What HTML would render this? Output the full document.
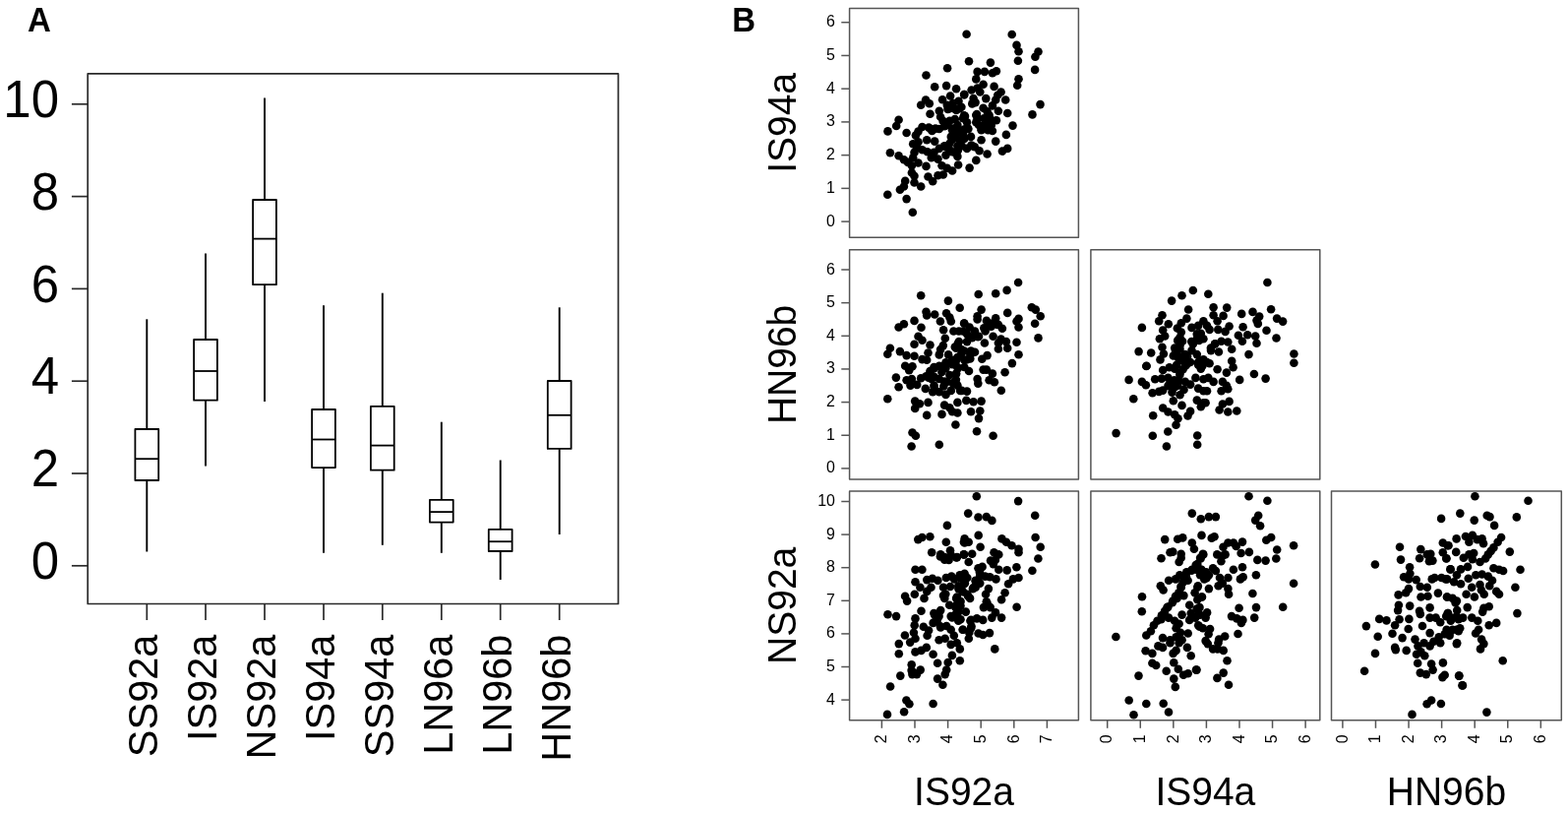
<!DOCTYPE html>
<html><head><meta charset="utf-8"><title>Figure</title>
<style>
html,body{margin:0;padding:0;background:#fff;}
svg{display:block;font-family:"Liberation Sans",Arial,sans-serif;}
</style></head><body>
<svg width="1594" height="827" viewBox="0 0 1594 827">
<rect width="1594" height="827" fill="#fff"/>
<text transform="translate(28.04,31.80) scale(1,1.041)" font-size="33" text-anchor="start" font-weight="bold" fill="#000">A</text>
<rect x="89.2" y="74.9" width="539.30" height="538.60" fill="none" stroke="#2a2a2a" stroke-width="1.7" stroke-linejoin="round"/>
<line x1="72.9" y1="574.80" x2="89.2" y2="574.80" stroke="#2a2a2a" stroke-width="1.7"/>
<text transform="translate(60.00,587.90) scale(1,1.041)" font-size="51" text-anchor="end" fill="#000">0</text>
<line x1="72.9" y1="481.00" x2="89.2" y2="481.00" stroke="#2a2a2a" stroke-width="1.7"/>
<text transform="translate(60.00,494.10) scale(1,1.041)" font-size="51" text-anchor="end" fill="#000">2</text>
<line x1="72.9" y1="387.20" x2="89.2" y2="387.20" stroke="#2a2a2a" stroke-width="1.7"/>
<text transform="translate(60.00,400.30) scale(1,1.041)" font-size="51" text-anchor="end" fill="#000">4</text>
<line x1="72.9" y1="293.40" x2="89.2" y2="293.40" stroke="#2a2a2a" stroke-width="1.7"/>
<text transform="translate(60.00,306.50) scale(1,1.041)" font-size="51" text-anchor="end" fill="#000">6</text>
<line x1="72.9" y1="199.60" x2="89.2" y2="199.60" stroke="#2a2a2a" stroke-width="1.7"/>
<text transform="translate(60.00,212.70) scale(1,1.041)" font-size="51" text-anchor="end" fill="#000">8</text>
<line x1="72.9" y1="105.80" x2="89.2" y2="105.80" stroke="#2a2a2a" stroke-width="1.7"/>
<text transform="translate(60.00,118.90) scale(1,1.041)" font-size="51" text-anchor="end" fill="#000">10</text>
<line x1="149.3" y1="324.3" x2="149.3" y2="436.0" stroke="#000" stroke-width="1.9"/>
<line x1="149.3" y1="488.0" x2="149.3" y2="560.5" stroke="#000" stroke-width="1.9"/>
<rect x="137.40" y="436.0" width="23.80" height="52.00" fill="none" stroke="#000" stroke-width="1.8" stroke-linejoin="round"/>
<line x1="137.40" y1="466.2" x2="161.20" y2="466.2" stroke="#000" stroke-width="1.8"/>
<line x1="149.3" y1="613.5" x2="149.3" y2="630" stroke="#2a2a2a" stroke-width="1.7"/>
<text transform="translate(160.20,644.60) rotate(-90) scale(1,1.041)" font-size="41.5" text-anchor="end" fill="#000">SS92a</text>
<line x1="209.0" y1="257.4" x2="209.0" y2="345.0" stroke="#000" stroke-width="1.9"/>
<line x1="209.0" y1="406.7" x2="209.0" y2="473.4" stroke="#000" stroke-width="1.9"/>
<rect x="197.10" y="345.0" width="23.80" height="61.70" fill="none" stroke="#000" stroke-width="1.8" stroke-linejoin="round"/>
<line x1="197.10" y1="377.0" x2="220.90" y2="377.0" stroke="#000" stroke-width="1.8"/>
<line x1="209.0" y1="613.5" x2="209.0" y2="630" stroke="#2a2a2a" stroke-width="1.7"/>
<text transform="translate(219.90,644.60) rotate(-90) scale(1,1.041)" font-size="41.5" text-anchor="end" fill="#000">IS92a</text>
<line x1="269.0" y1="99.6" x2="269.0" y2="203.0" stroke="#000" stroke-width="1.9"/>
<line x1="269.0" y1="289.2" x2="269.0" y2="408.0" stroke="#000" stroke-width="1.9"/>
<rect x="257.10" y="203.0" width="23.80" height="86.20" fill="none" stroke="#000" stroke-width="1.8" stroke-linejoin="round"/>
<line x1="257.10" y1="242.6" x2="280.90" y2="242.6" stroke="#000" stroke-width="1.8"/>
<line x1="269.0" y1="613.5" x2="269.0" y2="630" stroke="#2a2a2a" stroke-width="1.7"/>
<text transform="translate(279.90,644.60) rotate(-90) scale(1,1.041)" font-size="41.5" text-anchor="end" fill="#000">NS92a</text>
<line x1="329.0" y1="310.3" x2="329.0" y2="416.0" stroke="#000" stroke-width="1.9"/>
<line x1="329.0" y1="475.1" x2="329.0" y2="561.8" stroke="#000" stroke-width="1.9"/>
<rect x="317.10" y="416.0" width="23.80" height="59.10" fill="none" stroke="#000" stroke-width="1.8" stroke-linejoin="round"/>
<line x1="317.10" y1="446.5" x2="340.90" y2="446.5" stroke="#000" stroke-width="1.8"/>
<line x1="329.0" y1="613.5" x2="329.0" y2="630" stroke="#2a2a2a" stroke-width="1.7"/>
<text transform="translate(339.90,644.60) rotate(-90) scale(1,1.041)" font-size="41.5" text-anchor="end" fill="#000">IS94a</text>
<line x1="388.8" y1="297.7" x2="388.8" y2="412.8" stroke="#000" stroke-width="1.9"/>
<line x1="388.8" y1="477.7" x2="388.8" y2="553.8" stroke="#000" stroke-width="1.9"/>
<rect x="376.90" y="412.8" width="23.80" height="64.90" fill="none" stroke="#000" stroke-width="1.8" stroke-linejoin="round"/>
<line x1="376.90" y1="452.6" x2="400.70" y2="452.6" stroke="#000" stroke-width="1.8"/>
<line x1="388.8" y1="613.5" x2="388.8" y2="630" stroke="#2a2a2a" stroke-width="1.7"/>
<text transform="translate(399.70,644.60) rotate(-90) scale(1,1.041)" font-size="41.5" text-anchor="end" fill="#000">SS94a</text>
<line x1="448.8" y1="428.7" x2="448.8" y2="507.8" stroke="#000" stroke-width="1.9"/>
<line x1="448.8" y1="530.6" x2="448.8" y2="561.8" stroke="#000" stroke-width="1.9"/>
<rect x="436.90" y="507.8" width="23.80" height="22.80" fill="none" stroke="#000" stroke-width="1.8" stroke-linejoin="round"/>
<line x1="436.90" y1="520.1" x2="460.70" y2="520.1" stroke="#000" stroke-width="1.8"/>
<line x1="448.8" y1="613.5" x2="448.8" y2="630" stroke="#2a2a2a" stroke-width="1.7"/>
<text transform="translate(459.70,644.60) rotate(-90) scale(1,1.041)" font-size="41.5" text-anchor="end" fill="#000">LN96a</text>
<line x1="508.7" y1="467.5" x2="508.7" y2="537.9" stroke="#000" stroke-width="1.9"/>
<line x1="508.7" y1="560.0" x2="508.7" y2="589.0" stroke="#000" stroke-width="1.9"/>
<rect x="496.80" y="537.9" width="23.80" height="22.10" fill="none" stroke="#000" stroke-width="1.8" stroke-linejoin="round"/>
<line x1="496.80" y1="550.2" x2="520.60" y2="550.2" stroke="#000" stroke-width="1.8"/>
<line x1="508.7" y1="613.5" x2="508.7" y2="630" stroke="#2a2a2a" stroke-width="1.7"/>
<text transform="translate(519.60,644.60) rotate(-90) scale(1,1.041)" font-size="41.5" text-anchor="end" fill="#000">LN96b</text>
<line x1="568.7" y1="312.3" x2="568.7" y2="387.0" stroke="#000" stroke-width="1.9"/>
<line x1="568.7" y1="455.9" x2="568.7" y2="543.0" stroke="#000" stroke-width="1.9"/>
<rect x="556.80" y="387.0" width="23.80" height="68.90" fill="none" stroke="#000" stroke-width="1.8" stroke-linejoin="round"/>
<line x1="556.80" y1="421.8" x2="580.60" y2="421.8" stroke="#000" stroke-width="1.8"/>
<line x1="568.7" y1="613.5" x2="568.7" y2="630" stroke="#2a2a2a" stroke-width="1.7"/>
<text transform="translate(579.60,644.60) rotate(-90) scale(1,1.041)" font-size="41.5" text-anchor="end" fill="#000">HN96b</text>
<text transform="translate(744.19,31.90) scale(1,1.041)" font-size="33" text-anchor="start" font-weight="bold" fill="#000">B</text>
<rect x="863.6" y="8.6" width="232.80" height="232.60" fill="none" stroke="#555" stroke-width="1.5" stroke-linejoin="round"/>
<rect x="863.6" y="253.8" width="232.80" height="233.20" fill="none" stroke="#555" stroke-width="1.5" stroke-linejoin="round"/>
<rect x="1108.9" y="253.8" width="232.90" height="233.20" fill="none" stroke="#555" stroke-width="1.5" stroke-linejoin="round"/>
<rect x="863.6" y="498.9" width="232.80" height="232.90" fill="none" stroke="#555" stroke-width="1.5" stroke-linejoin="round"/>
<rect x="1108.9" y="498.9" width="232.90" height="232.90" fill="none" stroke="#555" stroke-width="1.5" stroke-linejoin="round"/>
<rect x="1353.5" y="498.9" width="233.80" height="232.90" fill="none" stroke="#555" stroke-width="1.5" stroke-linejoin="round"/>
<line x1="855.3" y1="225.10" x2="863.6" y2="225.10" stroke="#555" stroke-width="1.5"/>
<text transform="translate(849.00,229.60) scale(1,1.041)" font-size="16" text-anchor="end" fill="#000">0</text>
<line x1="855.3" y1="191.37" x2="863.6" y2="191.37" stroke="#555" stroke-width="1.5"/>
<text transform="translate(849.00,195.87) scale(1,1.041)" font-size="16" text-anchor="end" fill="#000">1</text>
<line x1="855.3" y1="157.64" x2="863.6" y2="157.64" stroke="#555" stroke-width="1.5"/>
<text transform="translate(849.00,162.14) scale(1,1.041)" font-size="16" text-anchor="end" fill="#000">2</text>
<line x1="855.3" y1="123.91" x2="863.6" y2="123.91" stroke="#555" stroke-width="1.5"/>
<text transform="translate(849.00,128.41) scale(1,1.041)" font-size="16" text-anchor="end" fill="#000">3</text>
<line x1="855.3" y1="90.18" x2="863.6" y2="90.18" stroke="#555" stroke-width="1.5"/>
<text transform="translate(849.00,94.68) scale(1,1.041)" font-size="16" text-anchor="end" fill="#000">4</text>
<line x1="855.3" y1="56.45" x2="863.6" y2="56.45" stroke="#555" stroke-width="1.5"/>
<text transform="translate(849.00,60.95) scale(1,1.041)" font-size="16" text-anchor="end" fill="#000">5</text>
<line x1="855.3" y1="22.72" x2="863.6" y2="22.72" stroke="#555" stroke-width="1.5"/>
<text transform="translate(849.00,27.22) scale(1,1.041)" font-size="16" text-anchor="end" fill="#000">6</text>
<text transform="translate(808.70,124.90) rotate(-90) scale(1,1.041)" font-size="39" text-anchor="middle" fill="#000">IS94a</text>
<line x1="855.3" y1="475.90" x2="863.6" y2="475.90" stroke="#555" stroke-width="1.5"/>
<text transform="translate(849.00,480.40) scale(1,1.041)" font-size="16" text-anchor="end" fill="#000">0</text>
<line x1="855.3" y1="442.25" x2="863.6" y2="442.25" stroke="#555" stroke-width="1.5"/>
<text transform="translate(849.00,446.75) scale(1,1.041)" font-size="16" text-anchor="end" fill="#000">1</text>
<line x1="855.3" y1="408.60" x2="863.6" y2="408.60" stroke="#555" stroke-width="1.5"/>
<text transform="translate(849.00,413.10) scale(1,1.041)" font-size="16" text-anchor="end" fill="#000">2</text>
<line x1="855.3" y1="374.95" x2="863.6" y2="374.95" stroke="#555" stroke-width="1.5"/>
<text transform="translate(849.00,379.45) scale(1,1.041)" font-size="16" text-anchor="end" fill="#000">3</text>
<line x1="855.3" y1="341.30" x2="863.6" y2="341.30" stroke="#555" stroke-width="1.5"/>
<text transform="translate(849.00,345.80) scale(1,1.041)" font-size="16" text-anchor="end" fill="#000">4</text>
<line x1="855.3" y1="307.65" x2="863.6" y2="307.65" stroke="#555" stroke-width="1.5"/>
<text transform="translate(849.00,312.15) scale(1,1.041)" font-size="16" text-anchor="end" fill="#000">5</text>
<line x1="855.3" y1="274.00" x2="863.6" y2="274.00" stroke="#555" stroke-width="1.5"/>
<text transform="translate(849.00,278.50) scale(1,1.041)" font-size="16" text-anchor="end" fill="#000">6</text>
<text transform="translate(808.70,370.40) rotate(-90) scale(1,1.041)" font-size="39" text-anchor="middle" fill="#000">HN96b</text>
<line x1="855.3" y1="711.10" x2="863.6" y2="711.10" stroke="#555" stroke-width="1.5"/>
<text transform="translate(849.00,715.60) scale(1,1.041)" font-size="16" text-anchor="end" fill="#000">4</text>
<line x1="855.3" y1="677.50" x2="863.6" y2="677.50" stroke="#555" stroke-width="1.5"/>
<text transform="translate(849.00,682.00) scale(1,1.041)" font-size="16" text-anchor="end" fill="#000">5</text>
<line x1="855.3" y1="643.90" x2="863.6" y2="643.90" stroke="#555" stroke-width="1.5"/>
<text transform="translate(849.00,648.40) scale(1,1.041)" font-size="16" text-anchor="end" fill="#000">6</text>
<line x1="855.3" y1="610.30" x2="863.6" y2="610.30" stroke="#555" stroke-width="1.5"/>
<text transform="translate(849.00,614.80) scale(1,1.041)" font-size="16" text-anchor="end" fill="#000">7</text>
<line x1="855.3" y1="576.70" x2="863.6" y2="576.70" stroke="#555" stroke-width="1.5"/>
<text transform="translate(849.00,581.20) scale(1,1.041)" font-size="16" text-anchor="end" fill="#000">8</text>
<line x1="855.3" y1="543.10" x2="863.6" y2="543.10" stroke="#555" stroke-width="1.5"/>
<text transform="translate(849.00,547.60) scale(1,1.041)" font-size="16" text-anchor="end" fill="#000">9</text>
<line x1="855.3" y1="509.50" x2="863.6" y2="509.50" stroke="#555" stroke-width="1.5"/>
<text transform="translate(849.00,514.00) scale(1,1.041)" font-size="16" text-anchor="end" fill="#000">10</text>
<text transform="translate(808.70,615.35) rotate(-90) scale(1,1.041)" font-size="39" text-anchor="middle" fill="#000">NS92a</text>
<line x1="896.40" y1="731.8" x2="896.40" y2="739.8" stroke="#555" stroke-width="1.5"/>
<text transform="translate(901.10,746.40) rotate(-90) scale(1,1.041)" font-size="16" text-anchor="end" fill="#000">2</text>
<line x1="930.00" y1="731.8" x2="930.00" y2="739.8" stroke="#555" stroke-width="1.5"/>
<text transform="translate(934.70,746.40) rotate(-90) scale(1,1.041)" font-size="16" text-anchor="end" fill="#000">3</text>
<line x1="963.60" y1="731.8" x2="963.60" y2="739.8" stroke="#555" stroke-width="1.5"/>
<text transform="translate(968.30,746.40) rotate(-90) scale(1,1.041)" font-size="16" text-anchor="end" fill="#000">4</text>
<line x1="997.20" y1="731.8" x2="997.20" y2="739.8" stroke="#555" stroke-width="1.5"/>
<text transform="translate(1001.90,746.40) rotate(-90) scale(1,1.041)" font-size="16" text-anchor="end" fill="#000">5</text>
<line x1="1030.80" y1="731.8" x2="1030.80" y2="739.8" stroke="#555" stroke-width="1.5"/>
<text transform="translate(1035.50,746.40) rotate(-90) scale(1,1.041)" font-size="16" text-anchor="end" fill="#000">6</text>
<line x1="1064.40" y1="731.8" x2="1064.40" y2="739.8" stroke="#555" stroke-width="1.5"/>
<text transform="translate(1069.10,746.40) rotate(-90) scale(1,1.041)" font-size="16" text-anchor="end" fill="#000">7</text>
<text transform="translate(980.00,818.00) scale(1,1.041)" font-size="39" text-anchor="middle" fill="#000">IS92a</text>
<line x1="1125.70" y1="731.8" x2="1125.70" y2="739.8" stroke="#555" stroke-width="1.5"/>
<text transform="translate(1130.40,746.40) rotate(-90) scale(1,1.041)" font-size="16" text-anchor="end" fill="#000">0</text>
<line x1="1159.27" y1="731.8" x2="1159.27" y2="739.8" stroke="#555" stroke-width="1.5"/>
<text transform="translate(1163.97,746.40) rotate(-90) scale(1,1.041)" font-size="16" text-anchor="end" fill="#000">1</text>
<line x1="1192.84" y1="731.8" x2="1192.84" y2="739.8" stroke="#555" stroke-width="1.5"/>
<text transform="translate(1197.54,746.40) rotate(-90) scale(1,1.041)" font-size="16" text-anchor="end" fill="#000">2</text>
<line x1="1226.41" y1="731.8" x2="1226.41" y2="739.8" stroke="#555" stroke-width="1.5"/>
<text transform="translate(1231.11,746.40) rotate(-90) scale(1,1.041)" font-size="16" text-anchor="end" fill="#000">3</text>
<line x1="1259.98" y1="731.8" x2="1259.98" y2="739.8" stroke="#555" stroke-width="1.5"/>
<text transform="translate(1264.68,746.40) rotate(-90) scale(1,1.041)" font-size="16" text-anchor="end" fill="#000">4</text>
<line x1="1293.55" y1="731.8" x2="1293.55" y2="739.8" stroke="#555" stroke-width="1.5"/>
<text transform="translate(1298.25,746.40) rotate(-90) scale(1,1.041)" font-size="16" text-anchor="end" fill="#000">5</text>
<line x1="1327.12" y1="731.8" x2="1327.12" y2="739.8" stroke="#555" stroke-width="1.5"/>
<text transform="translate(1331.82,746.40) rotate(-90) scale(1,1.041)" font-size="16" text-anchor="end" fill="#000">6</text>
<text transform="translate(1225.35,818.00) scale(1,1.041)" font-size="39" text-anchor="middle" fill="#000">IS94a</text>
<line x1="1364.90" y1="731.8" x2="1364.90" y2="739.8" stroke="#555" stroke-width="1.5"/>
<text transform="translate(1369.60,746.40) rotate(-90) scale(1,1.041)" font-size="16" text-anchor="end" fill="#000">0</text>
<line x1="1398.47" y1="731.8" x2="1398.47" y2="739.8" stroke="#555" stroke-width="1.5"/>
<text transform="translate(1403.17,746.40) rotate(-90) scale(1,1.041)" font-size="16" text-anchor="end" fill="#000">1</text>
<line x1="1432.04" y1="731.8" x2="1432.04" y2="739.8" stroke="#555" stroke-width="1.5"/>
<text transform="translate(1436.74,746.40) rotate(-90) scale(1,1.041)" font-size="16" text-anchor="end" fill="#000">2</text>
<line x1="1465.61" y1="731.8" x2="1465.61" y2="739.8" stroke="#555" stroke-width="1.5"/>
<text transform="translate(1470.31,746.40) rotate(-90) scale(1,1.041)" font-size="16" text-anchor="end" fill="#000">3</text>
<line x1="1499.18" y1="731.8" x2="1499.18" y2="739.8" stroke="#555" stroke-width="1.5"/>
<text transform="translate(1503.88,746.40) rotate(-90) scale(1,1.041)" font-size="16" text-anchor="end" fill="#000">4</text>
<line x1="1532.75" y1="731.8" x2="1532.75" y2="739.8" stroke="#555" stroke-width="1.5"/>
<text transform="translate(1537.45,746.40) rotate(-90) scale(1,1.041)" font-size="16" text-anchor="end" fill="#000">5</text>
<line x1="1566.32" y1="731.8" x2="1566.32" y2="739.8" stroke="#555" stroke-width="1.5"/>
<text transform="translate(1571.02,746.40) rotate(-90) scale(1,1.041)" font-size="16" text-anchor="end" fill="#000">6</text>
<text transform="translate(1470.40,818.00) scale(1,1.041)" font-size="39" text-anchor="middle" fill="#000">HN96b</text>
<circle cx="963.1" cy="69.3" r="4.3"/>
<circle cx="941.5" cy="76.5" r="4.3"/>
<circle cx="950.2" cy="88.2" r="4.3"/>
<circle cx="962.1" cy="87.1" r="4.3"/>
<circle cx="972.1" cy="90.2" r="4.3"/>
<circle cx="980.1" cy="96.1" r="4.3"/>
<circle cx="966.1" cy="97.5" r="4.3"/>
<circle cx="958.1" cy="101.2" r="4.3"/>
<circle cx="941.1" cy="101.5" r="4.3"/>
<circle cx="944.8" cy="105.2" r="4.3"/>
<circle cx="936.2" cy="106.8" r="4.3"/>
<circle cx="962.8" cy="106.8" r="4.3"/>
<circle cx="968.8" cy="104.8" r="4.3"/>
<circle cx="974.5" cy="102.8" r="4.3"/>
<circle cx="977.4" cy="108.8" r="4.3"/>
<circle cx="970.8" cy="110.8" r="4.3"/>
<circle cx="963.5" cy="111.0" r="4.3"/>
<circle cx="954.8" cy="112.8" r="4.3"/>
<circle cx="945.5" cy="115.8" r="4.3"/>
<circle cx="980.1" cy="117.4" r="4.3"/>
<circle cx="956.1" cy="118.8" r="4.3"/>
<circle cx="982.6" cy="34.7" r="4.3"/>
<circle cx="1028.7" cy="35.0" r="4.3"/>
<circle cx="1033.5" cy="45.9" r="4.3"/>
<circle cx="1035.5" cy="52.2" r="4.3"/>
<circle cx="1034.9" cy="61.8" r="4.3"/>
<circle cx="1055.5" cy="52.5" r="4.3"/>
<circle cx="1052.4" cy="57.8" r="4.3"/>
<circle cx="1052.1" cy="70.9" r="4.3"/>
<circle cx="985.0" cy="62.2" r="4.3"/>
<circle cx="1006.9" cy="63.6" r="4.3"/>
<circle cx="993.6" cy="72.9" r="4.3"/>
<circle cx="1000.9" cy="72.9" r="4.3"/>
<circle cx="1008.9" cy="74.2" r="4.3"/>
<circle cx="1012.9" cy="72.2" r="4.3"/>
<circle cx="992.3" cy="80.4" r="4.3"/>
<circle cx="1035.5" cy="80.2" r="4.3"/>
<circle cx="1034.2" cy="86.8" r="4.3"/>
<circle cx="999.6" cy="85.8" r="4.3"/>
<circle cx="1010.6" cy="87.9" r="4.3"/>
<circle cx="987.6" cy="91.5" r="4.3"/>
<circle cx="993.6" cy="89.5" r="4.3"/>
<circle cx="996.3" cy="93.5" r="4.3"/>
<circle cx="980.3" cy="96.1" r="4.3"/>
<circle cx="1017.6" cy="93.5" r="4.3"/>
<circle cx="1014.2" cy="96.8" r="4.3"/>
<circle cx="1002.3" cy="100.1" r="4.3"/>
<circle cx="989.6" cy="100.1" r="4.3"/>
<circle cx="988.3" cy="105.4" r="4.3"/>
<circle cx="991.6" cy="104.1" r="4.3"/>
<circle cx="1012.2" cy="101.5" r="4.3"/>
<circle cx="1008.9" cy="107.4" r="4.3"/>
<circle cx="1022.2" cy="101.5" r="4.3"/>
<circle cx="1057.5" cy="106.1" r="4.3"/>
<circle cx="999.6" cy="109.7" r="4.3"/>
<circle cx="1003.6" cy="113.4" r="4.3"/>
<circle cx="1014.9" cy="112.8" r="4.3"/>
<circle cx="1024.2" cy="115.0" r="4.3"/>
<circle cx="1049.5" cy="116.4" r="4.3"/>
<circle cx="993.0" cy="116.1" r="4.3"/>
<circle cx="981.0" cy="118.1" r="4.3"/>
<circle cx="913.6" cy="121.7" r="4.3"/>
<circle cx="911.2" cy="128.0" r="4.3"/>
<circle cx="902.5" cy="133.4" r="4.3"/>
<circle cx="921.6" cy="135.0" r="4.3"/>
<circle cx="937.5" cy="129.0" r="4.3"/>
<circle cx="944.2" cy="129.6" r="4.3"/>
<circle cx="947.5" cy="133.0" r="4.3"/>
<circle cx="933.5" cy="133.6" r="4.3"/>
<circle cx="930.9" cy="137.6" r="4.3"/>
<circle cx="954.8" cy="131.0" r="4.3"/>
<circle cx="960.1" cy="128.3" r="4.3"/>
<circle cx="968.1" cy="132.3" r="4.3"/>
<circle cx="966.8" cy="138.9" r="4.3"/>
<circle cx="942.2" cy="142.3" r="4.3"/>
<circle cx="950.2" cy="143.6" r="4.3"/>
<circle cx="928.2" cy="146.3" r="4.3"/>
<circle cx="933.5" cy="144.3" r="4.3"/>
<circle cx="932.2" cy="150.2" r="4.3"/>
<circle cx="904.9" cy="155.2" r="4.3"/>
<circle cx="913.6" cy="158.2" r="4.3"/>
<circle cx="918.9" cy="162.2" r="4.3"/>
<circle cx="922.9" cy="164.9" r="4.3"/>
<circle cx="928.2" cy="160.2" r="4.3"/>
<circle cx="929.5" cy="154.9" r="4.3"/>
<circle cx="937.5" cy="152.2" r="4.3"/>
<circle cx="942.8" cy="154.2" r="4.3"/>
<circle cx="949.5" cy="154.9" r="4.3"/>
<circle cx="954.8" cy="150.9" r="4.3"/>
<circle cx="960.1" cy="148.3" r="4.3"/>
<circle cx="965.4" cy="152.2" r="4.3"/>
<circle cx="970.8" cy="154.9" r="4.3"/>
<circle cx="973.4" cy="158.9" r="4.3"/>
<circle cx="946.8" cy="160.2" r="4.3"/>
<circle cx="953.5" cy="161.6" r="4.3"/>
<circle cx="961.5" cy="157.6" r="4.3"/>
<circle cx="933.5" cy="165.5" r="4.3"/>
<circle cx="926.9" cy="168.2" r="4.3"/>
<circle cx="941.5" cy="168.9" r="4.3"/>
<circle cx="957.5" cy="168.2" r="4.3"/>
<circle cx="962.8" cy="170.9" r="4.3"/>
<circle cx="968.1" cy="173.5" r="4.3"/>
<circle cx="974.1" cy="167.5" r="4.3"/>
<circle cx="926.9" cy="175.5" r="4.3"/>
<circle cx="929.5" cy="178.8" r="4.3"/>
<circle cx="943.5" cy="179.5" r="4.3"/>
<circle cx="948.2" cy="184.2" r="4.3"/>
<circle cx="953.5" cy="178.2" r="4.3"/>
<circle cx="958.8" cy="177.5" r="4.3"/>
<circle cx="920.2" cy="183.9" r="4.3"/>
<circle cx="929.5" cy="185.5" r="4.3"/>
<circle cx="936.2" cy="189.5" r="4.3"/>
<circle cx="918.9" cy="189.5" r="4.3"/>
<circle cx="914.9" cy="192.8" r="4.3"/>
<circle cx="902.3" cy="197.7" r="4.3"/>
<circle cx="921.6" cy="202.1" r="4.3"/>
<circle cx="927.8" cy="215.7" r="4.3"/>
<circle cx="970.8" cy="121.0" r="4.3"/>
<circle cx="973.4" cy="127.0" r="4.3"/>
<circle cx="968.1" cy="141.6" r="4.3"/>
<circle cx="973.4" cy="148.3" r="4.3"/>
<circle cx="978.8" cy="136.3" r="4.3"/>
<circle cx="1029.5" cy="127.6" r="4.3"/>
<circle cx="1022.9" cy="136.9" r="4.3"/>
<circle cx="1012.2" cy="143.6" r="4.3"/>
<circle cx="997.6" cy="142.3" r="4.3"/>
<circle cx="1018.9" cy="153.6" r="4.3"/>
<circle cx="1024.2" cy="150.9" r="4.3"/>
<circle cx="1003.6" cy="156.5" r="4.3"/>
<circle cx="995.6" cy="153.3" r="4.3"/>
<circle cx="992.3" cy="162.9" r="4.3"/>
<circle cx="985.6" cy="170.6" r="4.3"/>
<circle cx="979.0" cy="120.3" r="4.3"/>
<circle cx="983.0" cy="124.3" r="4.3"/>
<circle cx="993.6" cy="120.3" r="4.3"/>
<circle cx="1000.3" cy="120.3" r="4.3"/>
<circle cx="1006.9" cy="121.0" r="4.3"/>
<circle cx="1012.9" cy="122.3" r="4.3"/>
<circle cx="995.0" cy="127.0" r="4.3"/>
<circle cx="1001.6" cy="125.6" r="4.3"/>
<circle cx="1008.9" cy="133.0" r="4.3"/>
<circle cx="997.6" cy="132.3" r="4.3"/>
<circle cx="984.3" cy="131.0" r="4.3"/>
<circle cx="979.0" cy="135.0" r="4.3"/>
<circle cx="987.0" cy="138.9" r="4.3"/>
<circle cx="980.3" cy="140.9" r="4.3"/>
<circle cx="977.7" cy="148.3" r="4.3"/>
<circle cx="983.0" cy="150.9" r="4.3"/>
<circle cx="988.3" cy="148.3" r="4.3"/>
<circle cx="992.3" cy="124.3" r="4.3"/>
<circle cx="1002.9" cy="129.6" r="4.3"/>
<circle cx="1005.6" cy="117.0" r="4.3"/>
<circle cx="992.3" cy="117.0" r="4.3"/>
<circle cx="962.0" cy="127.2" r="4.3"/>
<circle cx="965.4" cy="122.9" r="4.3"/>
<circle cx="958.6" cy="122.9" r="4.3"/>
<circle cx="973.9" cy="130.6" r="4.3"/>
<circle cx="972.2" cy="135.6" r="4.3"/>
<circle cx="969.6" cy="139.9" r="4.3"/>
<circle cx="975.6" cy="142.4" r="4.3"/>
<circle cx="980.6" cy="131.4" r="4.3"/>
<circle cx="984.0" cy="130.6" r="4.3"/>
<circle cx="967.9" cy="130.6" r="4.3"/>
<circle cx="987.4" cy="147.5" r="4.3"/>
<circle cx="990.8" cy="149.2" r="4.3"/>
<circle cx="965.4" cy="145.8" r="4.3"/>
<circle cx="962.0" cy="149.2" r="4.3"/>
<circle cx="967.9" cy="154.3" r="4.3"/>
<circle cx="973.9" cy="152.6" r="4.3"/>
<circle cx="997.6" cy="130.6" r="4.3"/>
<circle cx="1004.4" cy="132.3" r="4.3"/>
<circle cx="1007.7" cy="127.2" r="4.3"/>
<circle cx="975.6" cy="110.2" r="4.3"/>
<circle cx="972.2" cy="111.9" r="4.3"/>
<circle cx="965.4" cy="110.2" r="4.3"/>
<circle cx="951.0" cy="130.6" r="4.3"/>
<circle cx="946.8" cy="131.4" r="4.3"/>
<circle cx="936.2" cy="300.3" r="4.3"/>
<circle cx="963.9" cy="305.6" r="4.3"/>
<circle cx="975.7" cy="312.8" r="4.3"/>
<circle cx="941.5" cy="316.8" r="4.3"/>
<circle cx="942.2" cy="320.5" r="4.3"/>
<circle cx="950.2" cy="319.5" r="4.3"/>
<circle cx="962.1" cy="318.2" r="4.3"/>
<circle cx="965.4" cy="322.5" r="4.3"/>
<circle cx="966.8" cy="326.5" r="4.3"/>
<circle cx="955.9" cy="326.5" r="4.3"/>
<circle cx="980.1" cy="328.5" r="4.3"/>
<circle cx="929.5" cy="325.9" r="4.3"/>
<circle cx="918.9" cy="329.2" r="4.3"/>
<circle cx="913.6" cy="332.5" r="4.3"/>
<circle cx="936.5" cy="332.8" r="4.3"/>
<circle cx="959.1" cy="335.2" r="4.3"/>
<circle cx="969.4" cy="336.5" r="4.3"/>
<circle cx="974.8" cy="336.5" r="4.3"/>
<circle cx="933.5" cy="341.8" r="4.3"/>
<circle cx="937.5" cy="345.8" r="4.3"/>
<circle cx="960.8" cy="343.8" r="4.3"/>
<circle cx="929.5" cy="349.8" r="4.3"/>
<circle cx="945.5" cy="350.5" r="4.3"/>
<circle cx="904.9" cy="353.8" r="4.3"/>
<circle cx="902.3" cy="359.8" r="4.3"/>
<circle cx="914.9" cy="357.1" r="4.3"/>
<circle cx="921.6" cy="361.1" r="4.3"/>
<circle cx="929.5" cy="361.8" r="4.3"/>
<circle cx="937.5" cy="365.1" r="4.3"/>
<circle cx="942.2" cy="365.8" r="4.3"/>
<circle cx="943.5" cy="358.5" r="4.3"/>
<circle cx="956.1" cy="355.1" r="4.3"/>
<circle cx="958.8" cy="351.1" r="4.3"/>
<circle cx="954.8" cy="360.4" r="4.3"/>
<circle cx="964.1" cy="360.4" r="4.3"/>
<circle cx="970.8" cy="352.5" r="4.3"/>
<circle cx="974.8" cy="347.1" r="4.3"/>
<circle cx="977.4" cy="355.1" r="4.3"/>
<circle cx="973.4" cy="363.1" r="4.3"/>
<circle cx="968.1" cy="365.8" r="4.3"/>
<circle cx="961.5" cy="368.4" r="4.3"/>
<circle cx="1035.1" cy="287.0" r="4.3"/>
<circle cx="994.7" cy="299.0" r="4.3"/>
<circle cx="1012.2" cy="298.2" r="4.3"/>
<circle cx="1023.6" cy="294.9" r="4.3"/>
<circle cx="997.6" cy="314.6" r="4.3"/>
<circle cx="1024.2" cy="317.9" r="4.3"/>
<circle cx="993.6" cy="321.2" r="4.3"/>
<circle cx="993.6" cy="324.5" r="4.3"/>
<circle cx="1012.2" cy="323.2" r="4.3"/>
<circle cx="1002.9" cy="325.9" r="4.3"/>
<circle cx="1048.8" cy="312.3" r="4.3"/>
<circle cx="1052.8" cy="314.6" r="4.3"/>
<circle cx="1057.7" cy="321.2" r="4.3"/>
<circle cx="1052.1" cy="328.8" r="4.3"/>
<circle cx="1035.5" cy="323.9" r="4.3"/>
<circle cx="1033.5" cy="326.5" r="4.3"/>
<circle cx="1035.5" cy="332.5" r="4.3"/>
<circle cx="980.3" cy="328.5" r="4.3"/>
<circle cx="985.6" cy="332.5" r="4.3"/>
<circle cx="991.0" cy="336.5" r="4.3"/>
<circle cx="983.0" cy="339.2" r="4.3"/>
<circle cx="988.3" cy="343.2" r="4.3"/>
<circle cx="979.0" cy="336.5" r="4.3"/>
<circle cx="995.0" cy="341.8" r="4.3"/>
<circle cx="1000.3" cy="333.2" r="4.3"/>
<circle cx="1005.6" cy="331.2" r="4.3"/>
<circle cx="1008.3" cy="328.5" r="4.3"/>
<circle cx="1014.9" cy="329.9" r="4.3"/>
<circle cx="1018.9" cy="333.8" r="4.3"/>
<circle cx="1009.6" cy="341.8" r="4.3"/>
<circle cx="1001.6" cy="336.5" r="4.3"/>
<circle cx="1017.6" cy="344.5" r="4.3"/>
<circle cx="1022.9" cy="347.1" r="4.3"/>
<circle cx="1014.9" cy="348.5" r="4.3"/>
<circle cx="1000.9" cy="348.5" r="4.3"/>
<circle cx="1033.5" cy="347.8" r="4.3"/>
<circle cx="1055.5" cy="343.4" r="4.3"/>
<circle cx="1014.9" cy="354.5" r="4.3"/>
<circle cx="1024.2" cy="353.8" r="4.3"/>
<circle cx="983.0" cy="347.1" r="4.3"/>
<circle cx="980.3" cy="356.5" r="4.3"/>
<circle cx="987.0" cy="356.5" r="4.3"/>
<circle cx="991.0" cy="357.8" r="4.3"/>
<circle cx="986.3" cy="364.4" r="4.3"/>
<circle cx="1003.6" cy="361.1" r="4.3"/>
<circle cx="998.3" cy="364.7" r="4.3"/>
<circle cx="1035.5" cy="360.2" r="4.3"/>
<circle cx="980.3" cy="365.8" r="4.3"/>
<circle cx="1028.9" cy="369.1" r="4.3"/>
<circle cx="920.2" cy="371.7" r="4.3"/>
<circle cx="927.5" cy="372.3" r="4.3"/>
<circle cx="924.2" cy="376.3" r="4.3"/>
<circle cx="910.9" cy="383.6" r="4.3"/>
<circle cx="913.6" cy="393.2" r="4.3"/>
<circle cx="921.6" cy="386.3" r="4.3"/>
<circle cx="926.9" cy="385.0" r="4.3"/>
<circle cx="925.5" cy="391.6" r="4.3"/>
<circle cx="932.2" cy="390.9" r="4.3"/>
<circle cx="936.2" cy="384.3" r="4.3"/>
<circle cx="941.5" cy="382.3" r="4.3"/>
<circle cx="940.8" cy="394.9" r="4.3"/>
<circle cx="945.5" cy="377.0" r="4.3"/>
<circle cx="949.5" cy="373.0" r="4.3"/>
<circle cx="954.8" cy="371.7" r="4.3"/>
<circle cx="961.5" cy="370.3" r="4.3"/>
<circle cx="968.1" cy="370.3" r="4.3"/>
<circle cx="973.4" cy="373.0" r="4.3"/>
<circle cx="946.8" cy="385.0" r="4.3"/>
<circle cx="949.5" cy="391.6" r="4.3"/>
<circle cx="954.8" cy="385.0" r="4.3"/>
<circle cx="960.1" cy="387.6" r="4.3"/>
<circle cx="965.4" cy="381.0" r="4.3"/>
<circle cx="972.1" cy="379.6" r="4.3"/>
<circle cx="970.8" cy="387.6" r="4.3"/>
<circle cx="973.4" cy="391.6" r="4.3"/>
<circle cx="948.2" cy="398.3" r="4.3"/>
<circle cx="954.8" cy="398.3" r="4.3"/>
<circle cx="961.5" cy="400.9" r="4.3"/>
<circle cx="966.8" cy="396.9" r="4.3"/>
<circle cx="976.1" cy="396.9" r="4.3"/>
<circle cx="902.3" cy="405.2" r="4.3"/>
<circle cx="930.2" cy="407.6" r="4.3"/>
<circle cx="934.9" cy="410.2" r="4.3"/>
<circle cx="943.5" cy="408.9" r="4.3"/>
<circle cx="930.2" cy="414.9" r="4.3"/>
<circle cx="942.2" cy="421.9" r="4.3"/>
<circle cx="960.1" cy="411.6" r="4.3"/>
<circle cx="965.4" cy="414.2" r="4.3"/>
<circle cx="957.5" cy="420.9" r="4.3"/>
<circle cx="968.1" cy="418.2" r="4.3"/>
<circle cx="973.4" cy="419.5" r="4.3"/>
<circle cx="973.4" cy="408.9" r="4.3"/>
<circle cx="971.4" cy="431.5" r="4.3"/>
<circle cx="927.5" cy="439.5" r="4.3"/>
<circle cx="930.9" cy="442.8" r="4.3"/>
<circle cx="926.6" cy="453.5" r="4.3"/>
<circle cx="954.8" cy="451.7" r="4.3"/>
<circle cx="985.0" cy="377.0" r="4.3"/>
<circle cx="980.3" cy="373.0" r="4.3"/>
<circle cx="999.6" cy="375.6" r="4.3"/>
<circle cx="1002.9" cy="375.6" r="4.3"/>
<circle cx="1008.9" cy="379.6" r="4.3"/>
<circle cx="1021.6" cy="378.3" r="4.3"/>
<circle cx="993.6" cy="385.0" r="4.3"/>
<circle cx="994.3" cy="389.6" r="4.3"/>
<circle cx="1005.6" cy="386.3" r="4.3"/>
<circle cx="1010.9" cy="388.3" r="4.3"/>
<circle cx="1017.8" cy="396.7" r="4.3"/>
<circle cx="983.0" cy="397.6" r="4.3"/>
<circle cx="977.7" cy="396.9" r="4.3"/>
<circle cx="982.3" cy="406.9" r="4.3"/>
<circle cx="989.6" cy="408.2" r="4.3"/>
<circle cx="997.6" cy="407.6" r="4.3"/>
<circle cx="987.0" cy="418.2" r="4.3"/>
<circle cx="996.3" cy="417.5" r="4.3"/>
<circle cx="995.0" cy="425.1" r="4.3"/>
<circle cx="993.0" cy="438.2" r="4.3"/>
<circle cx="1009.6" cy="442.8" r="4.3"/>
<circle cx="973.8" cy="349.0" r="4.3"/>
<circle cx="971.9" cy="353.8" r="4.3"/>
<circle cx="976.8" cy="360.6" r="4.3"/>
<circle cx="971.9" cy="366.4" r="4.3"/>
<circle cx="973.8" cy="374.2" r="4.3"/>
<circle cx="971.9" cy="380.0" r="4.3"/>
<circle cx="971.9" cy="385.8" r="4.3"/>
<circle cx="969.0" cy="389.6" r="4.3"/>
<circle cx="949.7" cy="374.2" r="4.3"/>
<circle cx="945.8" cy="378.0" r="4.3"/>
<circle cx="943.9" cy="383.8" r="4.3"/>
<circle cx="949.7" cy="382.9" r="4.3"/>
<circle cx="957.4" cy="378.0" r="4.3"/>
<circle cx="961.3" cy="374.2" r="4.3"/>
<circle cx="955.5" cy="372.2" r="4.3"/>
<circle cx="963.2" cy="387.7" r="4.3"/>
<circle cx="959.3" cy="392.5" r="4.3"/>
<circle cx="949.7" cy="393.5" r="4.3"/>
<circle cx="986.4" cy="360.6" r="4.3"/>
<circle cx="982.6" cy="365.5" r="4.3"/>
<circle cx="991.3" cy="339.3" r="4.3"/>
<circle cx="994.2" cy="342.2" r="4.3"/>
<circle cx="1007.7" cy="331.6" r="4.3"/>
<circle cx="1013.5" cy="329.7" r="4.3"/>
<circle cx="1212.8" cy="295.0" r="4.3"/>
<circle cx="1201.5" cy="300.3" r="4.3"/>
<circle cx="1191.1" cy="305.6" r="4.3"/>
<circle cx="1208.1" cy="314.5" r="4.3"/>
<circle cx="1181.5" cy="320.2" r="4.3"/>
<circle cx="1178.2" cy="326.2" r="4.3"/>
<circle cx="1187.8" cy="329.3" r="4.3"/>
<circle cx="1206.4" cy="323.6" r="4.3"/>
<circle cx="1200.8" cy="328.2" r="4.3"/>
<circle cx="1196.8" cy="333.5" r="4.3"/>
<circle cx="1160.9" cy="332.9" r="4.3"/>
<circle cx="1182.2" cy="335.5" r="4.3"/>
<circle cx="1184.2" cy="341.5" r="4.3"/>
<circle cx="1178.9" cy="344.2" r="4.3"/>
<circle cx="1200.8" cy="337.5" r="4.3"/>
<circle cx="1199.5" cy="342.8" r="4.3"/>
<circle cx="1202.1" cy="346.8" r="4.3"/>
<circle cx="1211.5" cy="332.9" r="4.3"/>
<circle cx="1218.1" cy="330.9" r="4.3"/>
<circle cx="1223.4" cy="326.2" r="4.3"/>
<circle cx="1220.8" cy="338.8" r="4.3"/>
<circle cx="1223.4" cy="344.2" r="4.3"/>
<circle cx="1212.8" cy="349.5" r="4.3"/>
<circle cx="1216.8" cy="344.2" r="4.3"/>
<circle cx="1157.6" cy="357.1" r="4.3"/>
<circle cx="1170.2" cy="358.5" r="4.3"/>
<circle cx="1181.5" cy="352.8" r="4.3"/>
<circle cx="1182.9" cy="359.5" r="4.3"/>
<circle cx="1179.5" cy="365.4" r="4.3"/>
<circle cx="1194.2" cy="353.5" r="4.3"/>
<circle cx="1199.5" cy="354.8" r="4.3"/>
<circle cx="1192.8" cy="361.5" r="4.3"/>
<circle cx="1198.2" cy="364.1" r="4.3"/>
<circle cx="1204.8" cy="360.1" r="4.3"/>
<circle cx="1211.5" cy="356.1" r="4.3"/>
<circle cx="1216.8" cy="360.1" r="4.3"/>
<circle cx="1208.8" cy="368.1" r="4.3"/>
<circle cx="1218.1" cy="368.1" r="4.3"/>
<circle cx="1223.4" cy="365.4" r="4.3"/>
<circle cx="1165.6" cy="371.8" r="4.3"/>
<circle cx="1288.4" cy="287.0" r="4.3"/>
<circle cx="1228.3" cy="298.7" r="4.3"/>
<circle cx="1233.6" cy="312.2" r="4.3"/>
<circle cx="1247.2" cy="312.6" r="4.3"/>
<circle cx="1233.6" cy="320.2" r="4.3"/>
<circle cx="1243.6" cy="320.9" r="4.3"/>
<circle cx="1237.6" cy="326.2" r="4.3"/>
<circle cx="1262.2" cy="318.9" r="4.3"/>
<circle cx="1273.5" cy="316.9" r="4.3"/>
<circle cx="1280.2" cy="321.6" r="4.3"/>
<circle cx="1277.5" cy="325.5" r="4.3"/>
<circle cx="1278.8" cy="328.9" r="4.3"/>
<circle cx="1292.1" cy="314.2" r="4.3"/>
<circle cx="1298.1" cy="323.6" r="4.3"/>
<circle cx="1304.1" cy="326.6" r="4.3"/>
<circle cx="1287.5" cy="335.8" r="4.3"/>
<circle cx="1297.5" cy="343.5" r="4.3"/>
<circle cx="1263.6" cy="332.2" r="4.3"/>
<circle cx="1268.2" cy="340.2" r="4.3"/>
<circle cx="1258.9" cy="340.8" r="4.3"/>
<circle cx="1276.2" cy="341.5" r="4.3"/>
<circle cx="1277.5" cy="348.8" r="4.3"/>
<circle cx="1262.9" cy="346.8" r="4.3"/>
<circle cx="1249.6" cy="331.5" r="4.3"/>
<circle cx="1245.6" cy="336.9" r="4.3"/>
<circle cx="1238.3" cy="334.9" r="4.3"/>
<circle cx="1229.6" cy="334.9" r="4.3"/>
<circle cx="1227.0" cy="330.9" r="4.3"/>
<circle cx="1235.0" cy="349.5" r="4.3"/>
<circle cx="1241.6" cy="346.8" r="4.3"/>
<circle cx="1248.3" cy="347.5" r="4.3"/>
<circle cx="1252.2" cy="354.8" r="4.3"/>
<circle cx="1238.9" cy="357.5" r="4.3"/>
<circle cx="1231.0" cy="356.1" r="4.3"/>
<circle cx="1227.0" cy="368.1" r="4.3"/>
<circle cx="1269.5" cy="360.1" r="4.3"/>
<circle cx="1315.4" cy="359.5" r="4.3"/>
<circle cx="1315.4" cy="368.8" r="4.3"/>
<circle cx="1252.2" cy="366.8" r="4.3"/>
<circle cx="1182.2" cy="376.0" r="4.3"/>
<circle cx="1188.8" cy="373.3" r="4.3"/>
<circle cx="1194.2" cy="374.6" r="4.3"/>
<circle cx="1199.5" cy="378.6" r="4.3"/>
<circle cx="1204.8" cy="372.0" r="4.3"/>
<circle cx="1210.1" cy="368.0" r="4.3"/>
<circle cx="1218.1" cy="370.6" r="4.3"/>
<circle cx="1220.8" cy="374.6" r="4.3"/>
<circle cx="1147.6" cy="385.9" r="4.3"/>
<circle cx="1160.9" cy="387.9" r="4.3"/>
<circle cx="1164.9" cy="391.3" r="4.3"/>
<circle cx="1174.2" cy="385.3" r="4.3"/>
<circle cx="1180.9" cy="384.6" r="4.3"/>
<circle cx="1187.5" cy="383.9" r="4.3"/>
<circle cx="1190.2" cy="387.9" r="4.3"/>
<circle cx="1187.5" cy="391.9" r="4.3"/>
<circle cx="1194.2" cy="393.3" r="4.3"/>
<circle cx="1198.2" cy="386.6" r="4.3"/>
<circle cx="1204.8" cy="387.9" r="4.3"/>
<circle cx="1210.1" cy="390.6" r="4.3"/>
<circle cx="1215.4" cy="383.9" r="4.3"/>
<circle cx="1223.4" cy="385.3" r="4.3"/>
<circle cx="1218.1" cy="394.6" r="4.3"/>
<circle cx="1223.4" cy="397.2" r="4.3"/>
<circle cx="1203.5" cy="395.9" r="4.3"/>
<circle cx="1199.5" cy="401.2" r="4.3"/>
<circle cx="1191.5" cy="398.6" r="4.3"/>
<circle cx="1171.6" cy="399.2" r="4.3"/>
<circle cx="1178.2" cy="397.9" r="4.3"/>
<circle cx="1182.2" cy="396.6" r="4.3"/>
<circle cx="1152.3" cy="405.2" r="4.3"/>
<circle cx="1192.8" cy="407.2" r="4.3"/>
<circle cx="1201.5" cy="411.9" r="4.3"/>
<circle cx="1216.8" cy="406.6" r="4.3"/>
<circle cx="1223.4" cy="409.2" r="4.3"/>
<circle cx="1220.8" cy="413.2" r="4.3"/>
<circle cx="1182.2" cy="414.5" r="4.3"/>
<circle cx="1187.5" cy="418.5" r="4.3"/>
<circle cx="1194.2" cy="421.2" r="4.3"/>
<circle cx="1197.5" cy="425.2" r="4.3"/>
<circle cx="1195.5" cy="431.8" r="4.3"/>
<circle cx="1207.5" cy="422.5" r="4.3"/>
<circle cx="1210.1" cy="417.9" r="4.3"/>
<circle cx="1172.2" cy="422.3" r="4.3"/>
<circle cx="1187.3" cy="438.5" r="4.3"/>
<circle cx="1134.6" cy="440.1" r="4.3"/>
<circle cx="1171.8" cy="442.7" r="4.3"/>
<circle cx="1185.9" cy="453.5" r="4.3"/>
<circle cx="1217.2" cy="442.5" r="4.3"/>
<circle cx="1217.2" cy="451.8" r="4.3"/>
<circle cx="1165.3" cy="372.0" r="4.3"/>
<circle cx="1253.6" cy="373.3" r="4.3"/>
<circle cx="1237.6" cy="375.3" r="4.3"/>
<circle cx="1246.9" cy="378.6" r="4.3"/>
<circle cx="1274.9" cy="380.0" r="4.3"/>
<circle cx="1286.6" cy="384.6" r="4.3"/>
<circle cx="1260.2" cy="385.9" r="4.3"/>
<circle cx="1233.6" cy="387.9" r="4.3"/>
<circle cx="1242.9" cy="387.9" r="4.3"/>
<circle cx="1246.9" cy="391.9" r="4.3"/>
<circle cx="1241.6" cy="397.2" r="4.3"/>
<circle cx="1248.3" cy="395.2" r="4.3"/>
<circle cx="1228.3" cy="383.9" r="4.3"/>
<circle cx="1227.0" cy="397.2" r="4.3"/>
<circle cx="1225.6" cy="409.2" r="4.3"/>
<circle cx="1249.6" cy="407.9" r="4.3"/>
<circle cx="1242.9" cy="410.5" r="4.3"/>
<circle cx="1239.6" cy="416.5" r="4.3"/>
<circle cx="1248.3" cy="418.5" r="4.3"/>
<circle cx="1257.3" cy="417.5" r="4.3"/>
<circle cx="1229.6" cy="369.3" r="4.3"/>
<circle cx="1197.2" cy="345.9" r="4.3"/>
<circle cx="1199.4" cy="351.3" r="4.3"/>
<circle cx="1195.0" cy="356.8" r="4.3"/>
<circle cx="1198.3" cy="362.2" r="4.3"/>
<circle cx="1202.6" cy="366.6" r="4.3"/>
<circle cx="1205.9" cy="370.9" r="4.3"/>
<circle cx="1196.1" cy="370.9" r="4.3"/>
<circle cx="1216.8" cy="339.4" r="4.3"/>
<circle cx="1219.0" cy="345.9" r="4.3"/>
<circle cx="1211.3" cy="347.0" r="4.3"/>
<circle cx="1235.3" cy="349.2" r="4.3"/>
<circle cx="1230.9" cy="353.5" r="4.3"/>
<circle cx="1202.6" cy="375.3" r="4.3"/>
<circle cx="1199.4" cy="380.7" r="4.3"/>
<circle cx="1193.9" cy="386.2" r="4.3"/>
<circle cx="1197.2" cy="391.6" r="4.3"/>
<circle cx="1191.8" cy="394.9" r="4.3"/>
<circle cx="1220.1" cy="366.6" r="4.3"/>
<circle cx="1222.2" cy="372.0" r="4.3"/>
<circle cx="1207.0" cy="362.2" r="4.3"/>
<circle cx="962.9" cy="533.9" r="4.3"/>
<circle cx="933.3" cy="548.1" r="4.3"/>
<circle cx="937.4" cy="546.0" r="4.3"/>
<circle cx="945.4" cy="545.3" r="4.3"/>
<circle cx="961.8" cy="550.8" r="4.3"/>
<circle cx="947.2" cy="561.3" r="4.3"/>
<circle cx="956.2" cy="563.4" r="4.3"/>
<circle cx="960.4" cy="566.1" r="4.3"/>
<circle cx="964.6" cy="568.9" r="4.3"/>
<circle cx="966.0" cy="559.2" r="4.3"/>
<circle cx="972.9" cy="566.1" r="4.3"/>
<circle cx="979.9" cy="563.4" r="4.3"/>
<circle cx="979.9" cy="550.8" r="4.3"/>
<circle cx="930.5" cy="578.7" r="4.3"/>
<circle cx="937.4" cy="578.7" r="4.3"/>
<circle cx="942.3" cy="589.1" r="4.3"/>
<circle cx="947.9" cy="587.7" r="4.3"/>
<circle cx="953.4" cy="589.8" r="4.3"/>
<circle cx="930.5" cy="591.2" r="4.3"/>
<circle cx="935.4" cy="596.7" r="4.3"/>
<circle cx="946.5" cy="596.7" r="4.3"/>
<circle cx="942.3" cy="600.9" r="4.3"/>
<circle cx="929.8" cy="603.7" r="4.3"/>
<circle cx="920.1" cy="605.8" r="4.3"/>
<circle cx="922.1" cy="610.6" r="4.3"/>
<circle cx="959.0" cy="596.7" r="4.3"/>
<circle cx="966.0" cy="596.0" r="4.3"/>
<circle cx="961.8" cy="587.0" r="4.3"/>
<circle cx="967.3" cy="585.6" r="4.3"/>
<circle cx="959.0" cy="605.1" r="4.3"/>
<circle cx="970.1" cy="588.4" r="4.3"/>
<circle cx="975.7" cy="584.2" r="4.3"/>
<circle cx="974.3" cy="595.3" r="4.3"/>
<circle cx="972.9" cy="606.5" r="4.3"/>
<circle cx="978.5" cy="600.9" r="4.3"/>
<circle cx="939.5" cy="607.9" r="4.3"/>
<circle cx="992.8" cy="504.3" r="4.3"/>
<circle cx="1035.1" cy="509.1" r="4.3"/>
<circle cx="984.2" cy="521.6" r="4.3"/>
<circle cx="994.5" cy="525.5" r="4.3"/>
<circle cx="1002.8" cy="525.1" r="4.3"/>
<circle cx="1008.4" cy="528.9" r="4.3"/>
<circle cx="1052.2" cy="523.7" r="4.3"/>
<circle cx="994.7" cy="543.9" r="4.3"/>
<circle cx="980.6" cy="547.4" r="4.3"/>
<circle cx="984.7" cy="550.8" r="4.3"/>
<circle cx="980.6" cy="551.5" r="4.3"/>
<circle cx="996.6" cy="555.7" r="4.3"/>
<circle cx="1018.4" cy="547.4" r="4.3"/>
<circle cx="1023.0" cy="550.8" r="4.3"/>
<circle cx="1028.5" cy="554.3" r="4.3"/>
<circle cx="1035.5" cy="557.8" r="4.3"/>
<circle cx="1035.5" cy="561.3" r="4.3"/>
<circle cx="1052.6" cy="546.0" r="4.3"/>
<circle cx="1057.7" cy="555.7" r="4.3"/>
<circle cx="1055.4" cy="567.5" r="4.3"/>
<circle cx="1049.4" cy="579.8" r="4.3"/>
<circle cx="979.9" cy="563.4" r="4.3"/>
<circle cx="988.2" cy="562.7" r="4.3"/>
<circle cx="984.7" cy="571.0" r="4.3"/>
<circle cx="1010.5" cy="561.3" r="4.3"/>
<circle cx="1015.3" cy="563.4" r="4.3"/>
<circle cx="1007.0" cy="569.6" r="4.3"/>
<circle cx="1011.9" cy="568.9" r="4.3"/>
<circle cx="1009.8" cy="573.1" r="4.3"/>
<circle cx="1015.3" cy="578.7" r="4.3"/>
<circle cx="1023.7" cy="579.4" r="4.3"/>
<circle cx="1033.4" cy="576.2" r="4.3"/>
<circle cx="994.5" cy="577.3" r="4.3"/>
<circle cx="998.6" cy="575.9" r="4.3"/>
<circle cx="995.9" cy="581.4" r="4.3"/>
<circle cx="1001.4" cy="585.6" r="4.3"/>
<circle cx="1006.3" cy="586.3" r="4.3"/>
<circle cx="1012.5" cy="588.4" r="4.3"/>
<circle cx="980.6" cy="582.8" r="4.3"/>
<circle cx="983.3" cy="587.0" r="4.3"/>
<circle cx="979.2" cy="594.0" r="4.3"/>
<circle cx="991.7" cy="589.8" r="4.3"/>
<circle cx="991.7" cy="596.7" r="4.3"/>
<circle cx="988.9" cy="598.1" r="4.3"/>
<circle cx="983.3" cy="603.7" r="4.3"/>
<circle cx="986.1" cy="607.9" r="4.3"/>
<circle cx="1004.9" cy="598.1" r="4.3"/>
<circle cx="1002.1" cy="603.7" r="4.3"/>
<circle cx="1025.1" cy="593.3" r="4.3"/>
<circle cx="1029.9" cy="588.4" r="4.3"/>
<circle cx="1035.5" cy="587.0" r="4.3"/>
<circle cx="1021.6" cy="602.3" r="4.3"/>
<circle cx="1018.1" cy="609.3" r="4.3"/>
<circle cx="1002.8" cy="611.3" r="4.3"/>
<circle cx="902.5" cy="624.3" r="4.3"/>
<circle cx="911.1" cy="626.1" r="4.3"/>
<circle cx="936.5" cy="620.8" r="4.3"/>
<circle cx="949.4" cy="623.1" r="4.3"/>
<circle cx="956.2" cy="620.1" r="4.3"/>
<circle cx="954.6" cy="626.1" r="4.3"/>
<circle cx="965.2" cy="614.8" r="4.3"/>
<circle cx="972.8" cy="614.0" r="4.3"/>
<circle cx="974.3" cy="621.6" r="4.3"/>
<circle cx="966.7" cy="626.1" r="4.3"/>
<circle cx="974.3" cy="630.7" r="4.3"/>
<circle cx="978.8" cy="639.7" r="4.3"/>
<circle cx="930.5" cy="628.4" r="4.3"/>
<circle cx="929.7" cy="635.2" r="4.3"/>
<circle cx="938.8" cy="636.7" r="4.3"/>
<circle cx="944.1" cy="640.5" r="4.3"/>
<circle cx="942.6" cy="645.8" r="4.3"/>
<circle cx="948.6" cy="632.9" r="4.3"/>
<circle cx="956.2" cy="637.5" r="4.3"/>
<circle cx="962.2" cy="636.0" r="4.3"/>
<circle cx="966.7" cy="639.7" r="4.3"/>
<circle cx="969.8" cy="645.8" r="4.3"/>
<circle cx="954.6" cy="650.3" r="4.3"/>
<circle cx="960.7" cy="648.8" r="4.3"/>
<circle cx="966.7" cy="654.9" r="4.3"/>
<circle cx="972.8" cy="653.3" r="4.3"/>
<circle cx="975.8" cy="659.4" r="4.3"/>
<circle cx="928.9" cy="642.8" r="4.3"/>
<circle cx="930.5" cy="648.8" r="4.3"/>
<circle cx="919.9" cy="645.5" r="4.3"/>
<circle cx="925.2" cy="652.6" r="4.3"/>
<circle cx="913.8" cy="654.1" r="4.3"/>
<circle cx="913.8" cy="664.2" r="4.3"/>
<circle cx="930.5" cy="662.4" r="4.3"/>
<circle cx="936.5" cy="660.9" r="4.3"/>
<circle cx="941.8" cy="657.9" r="4.3"/>
<circle cx="948.6" cy="664.7" r="4.3"/>
<circle cx="967.9" cy="665.9" r="4.3"/>
<circle cx="975.8" cy="671.2" r="4.3"/>
<circle cx="953.1" cy="673.7" r="4.3"/>
<circle cx="963.7" cy="673.0" r="4.3"/>
<circle cx="962.2" cy="680.6" r="4.3"/>
<circle cx="960.7" cy="685.1" r="4.3"/>
<circle cx="953.1" cy="689.6" r="4.3"/>
<circle cx="958.4" cy="695.7" r="4.3"/>
<circle cx="926.7" cy="675.3" r="4.3"/>
<circle cx="927.4" cy="685.1" r="4.3"/>
<circle cx="935.7" cy="680.6" r="4.3"/>
<circle cx="932.0" cy="685.1" r="4.3"/>
<circle cx="915.3" cy="686.6" r="4.3"/>
<circle cx="905.1" cy="697.5" r="4.3"/>
<circle cx="921.4" cy="711.5" r="4.3"/>
<circle cx="924.4" cy="715.3" r="4.3"/>
<circle cx="948.6" cy="715.0" r="4.3"/>
<circle cx="919.1" cy="723.3" r="4.3"/>
<circle cx="902.0" cy="725.9" r="4.3"/>
<circle cx="1003.7" cy="613.3" r="4.3"/>
<circle cx="999.9" cy="617.1" r="4.3"/>
<circle cx="1006.7" cy="617.1" r="4.3"/>
<circle cx="1012.0" cy="622.4" r="4.3"/>
<circle cx="1008.3" cy="627.6" r="4.3"/>
<circle cx="1018.1" cy="627.6" r="4.3"/>
<circle cx="1033.6" cy="616.8" r="4.3"/>
<circle cx="981.8" cy="621.6" r="4.3"/>
<circle cx="987.1" cy="629.9" r="4.3"/>
<circle cx="993.1" cy="628.4" r="4.3"/>
<circle cx="999.2" cy="629.9" r="4.3"/>
<circle cx="987.1" cy="638.2" r="4.3"/>
<circle cx="994.6" cy="643.5" r="4.3"/>
<circle cx="999.2" cy="645.0" r="4.3"/>
<circle cx="1006.0" cy="643.1" r="4.3"/>
<circle cx="984.8" cy="648.8" r="4.3"/>
<circle cx="978.8" cy="639.7" r="4.3"/>
<circle cx="1011.3" cy="659.4" r="4.3"/>
<circle cx="976.5" cy="629.2" r="4.3"/>
<circle cx="976.5" cy="615.6" r="4.3"/>
<circle cx="976.6" cy="587.2" r="4.3"/>
<circle cx="980.9" cy="592.6" r="4.3"/>
<circle cx="974.4" cy="598.1" r="4.3"/>
<circle cx="978.8" cy="601.3" r="4.3"/>
<circle cx="972.2" cy="607.9" r="4.3"/>
<circle cx="976.6" cy="611.1" r="4.3"/>
<circle cx="971.1" cy="616.6" r="4.3"/>
<circle cx="972.2" cy="623.1" r="4.3"/>
<circle cx="974.4" cy="629.6" r="4.3"/>
<circle cx="967.9" cy="627.5" r="4.3"/>
<circle cx="961.3" cy="603.5" r="4.3"/>
<circle cx="960.3" cy="607.9" r="4.3"/>
<circle cx="996.2" cy="585.0" r="4.3"/>
<circle cx="991.8" cy="590.5" r="4.3"/>
<circle cx="996.2" cy="592.6" r="4.3"/>
<circle cx="989.6" cy="597.0" r="4.3"/>
<circle cx="955.9" cy="565.4" r="4.3"/>
<circle cx="960.3" cy="568.7" r="4.3"/>
<circle cx="966.8" cy="564.4" r="4.3"/>
<circle cx="972.2" cy="566.5" r="4.3"/>
<circle cx="984.2" cy="605.7" r="4.3"/>
<circle cx="986.4" cy="630.7" r="4.3"/>
<circle cx="987.5" cy="636.2" r="4.3"/>
<circle cx="985.3" cy="642.7" r="4.3"/>
<circle cx="952.6" cy="630.7" r="4.3"/>
<circle cx="955.9" cy="636.2" r="4.3"/>
<circle cx="950.5" cy="625.3" r="4.3"/>
<circle cx="926.6" cy="681.1" r="4.3"/>
<circle cx="929.0" cy="683.5" r="4.3"/>
<circle cx="1211.8" cy="521.6" r="4.3"/>
<circle cx="1220.8" cy="527.2" r="4.3"/>
<circle cx="1184.2" cy="548.1" r="4.3"/>
<circle cx="1197.2" cy="547.8" r="4.3"/>
<circle cx="1202.3" cy="546.4" r="4.3"/>
<circle cx="1221.5" cy="543.9" r="4.3"/>
<circle cx="1211.8" cy="551.5" r="4.3"/>
<circle cx="1213.9" cy="557.8" r="4.3"/>
<circle cx="1189.5" cy="561.3" r="4.3"/>
<circle cx="1192.3" cy="560.6" r="4.3"/>
<circle cx="1200.7" cy="562.7" r="4.3"/>
<circle cx="1200.7" cy="566.8" r="4.3"/>
<circle cx="1198.6" cy="571.0" r="4.3"/>
<circle cx="1180.5" cy="567.3" r="4.3"/>
<circle cx="1222.9" cy="562.7" r="4.3"/>
<circle cx="1220.1" cy="566.8" r="4.3"/>
<circle cx="1217.3" cy="573.1" r="4.3"/>
<circle cx="1211.8" cy="578.7" r="4.3"/>
<circle cx="1216.0" cy="578.7" r="4.3"/>
<circle cx="1221.5" cy="578.7" r="4.3"/>
<circle cx="1206.2" cy="581.4" r="4.3"/>
<circle cx="1199.3" cy="584.2" r="4.3"/>
<circle cx="1195.1" cy="588.4" r="4.3"/>
<circle cx="1203.4" cy="587.0" r="4.3"/>
<circle cx="1207.6" cy="589.8" r="4.3"/>
<circle cx="1188.1" cy="589.8" r="4.3"/>
<circle cx="1220.1" cy="584.2" r="4.3"/>
<circle cx="1224.3" cy="588.4" r="4.3"/>
<circle cx="1179.8" cy="595.3" r="4.3"/>
<circle cx="1182.6" cy="599.5" r="4.3"/>
<circle cx="1200.7" cy="596.7" r="4.3"/>
<circle cx="1199.3" cy="602.3" r="4.3"/>
<circle cx="1196.5" cy="607.9" r="4.3"/>
<circle cx="1203.4" cy="605.1" r="4.3"/>
<circle cx="1217.3" cy="596.7" r="4.3"/>
<circle cx="1214.6" cy="602.3" r="4.3"/>
<circle cx="1221.5" cy="606.5" r="4.3"/>
<circle cx="1217.3" cy="609.3" r="4.3"/>
<circle cx="1161.0" cy="606.2" r="4.3"/>
<circle cx="1192.3" cy="610.6" r="4.3"/>
<circle cx="1269.5" cy="504.3" r="4.3"/>
<circle cx="1288.4" cy="508.8" r="4.3"/>
<circle cx="1228.9" cy="525.1" r="4.3"/>
<circle cx="1235.9" cy="525.1" r="4.3"/>
<circle cx="1279.2" cy="523.7" r="4.3"/>
<circle cx="1276.2" cy="528.6" r="4.3"/>
<circle cx="1281.1" cy="534.2" r="4.3"/>
<circle cx="1231.7" cy="546.7" r="4.3"/>
<circle cx="1234.5" cy="545.3" r="4.3"/>
<circle cx="1287.3" cy="548.8" r="4.3"/>
<circle cx="1292.2" cy="546.0" r="4.3"/>
<circle cx="1315.1" cy="554.3" r="4.3"/>
<circle cx="1298.2" cy="558.5" r="4.3"/>
<circle cx="1297.3" cy="567.5" r="4.3"/>
<circle cx="1248.4" cy="551.5" r="4.3"/>
<circle cx="1253.9" cy="551.5" r="4.3"/>
<circle cx="1256.7" cy="555.0" r="4.3"/>
<circle cx="1263.0" cy="550.6" r="4.3"/>
<circle cx="1243.5" cy="555.7" r="4.3"/>
<circle cx="1237.3" cy="563.4" r="4.3"/>
<circle cx="1242.8" cy="564.8" r="4.3"/>
<circle cx="1245.6" cy="563.4" r="4.3"/>
<circle cx="1241.4" cy="570.3" r="4.3"/>
<circle cx="1261.6" cy="562.0" r="4.3"/>
<circle cx="1269.9" cy="560.9" r="4.3"/>
<circle cx="1278.3" cy="568.9" r="4.3"/>
<circle cx="1286.6" cy="569.6" r="4.3"/>
<circle cx="1223.3" cy="563.4" r="4.3"/>
<circle cx="1220.6" cy="567.5" r="4.3"/>
<circle cx="1233.1" cy="577.3" r="4.3"/>
<circle cx="1235.9" cy="580.0" r="4.3"/>
<circle cx="1228.9" cy="584.2" r="4.3"/>
<circle cx="1226.1" cy="581.4" r="4.3"/>
<circle cx="1220.6" cy="578.7" r="4.3"/>
<circle cx="1253.9" cy="578.7" r="4.3"/>
<circle cx="1263.0" cy="576.2" r="4.3"/>
<circle cx="1276.9" cy="584.2" r="4.3"/>
<circle cx="1240.0" cy="587.0" r="4.3"/>
<circle cx="1248.4" cy="587.0" r="4.3"/>
<circle cx="1242.8" cy="592.6" r="4.3"/>
<circle cx="1238.6" cy="595.3" r="4.3"/>
<circle cx="1260.9" cy="588.4" r="4.3"/>
<circle cx="1263.7" cy="586.3" r="4.3"/>
<circle cx="1315.1" cy="592.8" r="4.3"/>
<circle cx="1228.9" cy="598.1" r="4.3"/>
<circle cx="1248.4" cy="598.1" r="4.3"/>
<circle cx="1249.1" cy="603.7" r="4.3"/>
<circle cx="1273.4" cy="603.0" r="4.3"/>
<circle cx="1222.0" cy="606.5" r="4.3"/>
<circle cx="1217.8" cy="595.3" r="4.3"/>
<circle cx="1160.8" cy="621.3" r="4.3"/>
<circle cx="1134.4" cy="647.0" r="4.3"/>
<circle cx="1186.5" cy="617.1" r="4.3"/>
<circle cx="1183.5" cy="623.1" r="4.3"/>
<circle cx="1180.5" cy="629.2" r="4.3"/>
<circle cx="1172.9" cy="635.2" r="4.3"/>
<circle cx="1169.9" cy="641.3" r="4.3"/>
<circle cx="1165.3" cy="645.5" r="4.3"/>
<circle cx="1188.0" cy="627.6" r="4.3"/>
<circle cx="1194.1" cy="630.7" r="4.3"/>
<circle cx="1198.6" cy="633.7" r="4.3"/>
<circle cx="1201.6" cy="624.6" r="4.3"/>
<circle cx="1209.2" cy="614.8" r="4.3"/>
<circle cx="1216.7" cy="618.6" r="4.3"/>
<circle cx="1210.7" cy="623.1" r="4.3"/>
<circle cx="1215.2" cy="627.6" r="4.3"/>
<circle cx="1209.2" cy="629.9" r="4.3"/>
<circle cx="1219.8" cy="624.6" r="4.3"/>
<circle cx="1218.2" cy="635.2" r="4.3"/>
<circle cx="1222.8" cy="638.2" r="4.3"/>
<circle cx="1195.6" cy="638.2" r="4.3"/>
<circle cx="1200.1" cy="642.8" r="4.3"/>
<circle cx="1195.6" cy="647.3" r="4.3"/>
<circle cx="1201.6" cy="650.3" r="4.3"/>
<circle cx="1207.7" cy="643.5" r="4.3"/>
<circle cx="1182.0" cy="648.1" r="4.3"/>
<circle cx="1189.5" cy="650.3" r="4.3"/>
<circle cx="1189.5" cy="653.3" r="4.3"/>
<circle cx="1198.6" cy="653.3" r="4.3"/>
<circle cx="1177.4" cy="656.4" r="4.3"/>
<circle cx="1182.0" cy="657.9" r="4.3"/>
<circle cx="1164.6" cy="661.2" r="4.3"/>
<circle cx="1171.4" cy="663.9" r="4.3"/>
<circle cx="1192.6" cy="663.9" r="4.3"/>
<circle cx="1195.6" cy="660.9" r="4.3"/>
<circle cx="1206.9" cy="657.9" r="4.3"/>
<circle cx="1210.7" cy="666.2" r="4.3"/>
<circle cx="1171.4" cy="673.7" r="4.3"/>
<circle cx="1175.2" cy="676.0" r="4.3"/>
<circle cx="1193.3" cy="673.3" r="4.3"/>
<circle cx="1197.8" cy="679.8" r="4.3"/>
<circle cx="1185.7" cy="681.8" r="4.3"/>
<circle cx="1203.1" cy="685.8" r="4.3"/>
<circle cx="1207.7" cy="684.3" r="4.3"/>
<circle cx="1216.0" cy="680.6" r="4.3"/>
<circle cx="1193.3" cy="689.6" r="4.3"/>
<circle cx="1194.8" cy="697.9" r="4.3"/>
<circle cx="1157.5" cy="686.6" r="4.3"/>
<circle cx="1147.7" cy="711.5" r="4.3"/>
<circle cx="1165.3" cy="715.0" r="4.3"/>
<circle cx="1182.7" cy="714.7" r="4.3"/>
<circle cx="1188.0" cy="723.5" r="4.3"/>
<circle cx="1152.5" cy="726.2" r="4.3"/>
<circle cx="1259.6" cy="617.8" r="4.3"/>
<circle cx="1277.0" cy="617.1" r="4.3"/>
<circle cx="1304.2" cy="616.8" r="4.3"/>
<circle cx="1252.0" cy="626.1" r="4.3"/>
<circle cx="1257.3" cy="628.4" r="4.3"/>
<circle cx="1263.4" cy="629.9" r="4.3"/>
<circle cx="1261.9" cy="632.9" r="4.3"/>
<circle cx="1275.2" cy="627.6" r="4.3"/>
<circle cx="1258.5" cy="644.0" r="4.3"/>
<circle cx="1227.1" cy="622.4" r="4.3"/>
<circle cx="1225.6" cy="627.6" r="4.3"/>
<circle cx="1219.5" cy="617.1" r="4.3"/>
<circle cx="1218.0" cy="624.6" r="4.3"/>
<circle cx="1219.5" cy="636.7" r="4.3"/>
<circle cx="1230.1" cy="639.0" r="4.3"/>
<circle cx="1228.6" cy="644.3" r="4.3"/>
<circle cx="1225.6" cy="651.1" r="4.3"/>
<circle cx="1227.8" cy="654.1" r="4.3"/>
<circle cx="1239.2" cy="649.6" r="4.3"/>
<circle cx="1238.4" cy="653.3" r="4.3"/>
<circle cx="1245.2" cy="646.5" r="4.3"/>
<circle cx="1233.1" cy="659.4" r="4.3"/>
<circle cx="1237.7" cy="659.4" r="4.3"/>
<circle cx="1243.7" cy="660.9" r="4.3"/>
<circle cx="1247.5" cy="671.2" r="4.3"/>
<circle cx="1243.7" cy="683.6" r="4.3"/>
<circle cx="1237.4" cy="688.9" r="4.3"/>
<circle cx="1249.0" cy="695.7" r="4.3"/>
<circle cx="1216.5" cy="680.6" r="4.3"/>
<circle cx="1195.0" cy="605.7" r="4.3"/>
<circle cx="1198.3" cy="602.4" r="4.3"/>
<circle cx="1191.8" cy="612.2" r="4.3"/>
<circle cx="1187.4" cy="616.6" r="4.3"/>
<circle cx="1184.1" cy="620.9" r="4.3"/>
<circle cx="1180.9" cy="625.3" r="4.3"/>
<circle cx="1176.5" cy="630.7" r="4.3"/>
<circle cx="1200.5" cy="595.9" r="4.3"/>
<circle cx="1202.6" cy="591.6" r="4.3"/>
<circle cx="1205.9" cy="586.1" r="4.3"/>
<circle cx="1211.3" cy="579.6" r="4.3"/>
<circle cx="1215.7" cy="574.1" r="4.3"/>
<circle cx="1222.2" cy="583.9" r="4.3"/>
<circle cx="1226.6" cy="587.2" r="4.3"/>
<circle cx="1465.1" cy="526.9" r="4.3"/>
<circle cx="1423.0" cy="555.7" r="4.3"/>
<circle cx="1424.0" cy="568.6" r="4.3"/>
<circle cx="1397.9" cy="573.5" r="4.3"/>
<circle cx="1444.3" cy="558.1" r="4.3"/>
<circle cx="1443.1" cy="567.3" r="4.3"/>
<circle cx="1450.8" cy="563.4" r="4.3"/>
<circle cx="1454.3" cy="562.7" r="4.3"/>
<circle cx="1452.9" cy="570.3" r="4.3"/>
<circle cx="1456.4" cy="569.6" r="4.3"/>
<circle cx="1466.8" cy="551.5" r="4.3"/>
<circle cx="1471.6" cy="554.3" r="4.3"/>
<circle cx="1466.8" cy="561.3" r="4.3"/>
<circle cx="1470.3" cy="567.3" r="4.3"/>
<circle cx="1433.1" cy="576.2" r="4.3"/>
<circle cx="1433.4" cy="582.8" r="4.3"/>
<circle cx="1427.1" cy="586.3" r="4.3"/>
<circle cx="1432.0" cy="588.4" r="4.3"/>
<circle cx="1439.7" cy="589.1" r="4.3"/>
<circle cx="1443.8" cy="596.0" r="4.3"/>
<circle cx="1450.8" cy="596.7" r="4.3"/>
<circle cx="1455.7" cy="588.4" r="4.3"/>
<circle cx="1458.4" cy="587.0" r="4.3"/>
<circle cx="1465.4" cy="587.0" r="4.3"/>
<circle cx="1469.6" cy="588.4" r="4.3"/>
<circle cx="1461.9" cy="602.6" r="4.3"/>
<circle cx="1432.0" cy="598.1" r="4.3"/>
<circle cx="1429.2" cy="602.3" r="4.3"/>
<circle cx="1421.6" cy="604.4" r="4.3"/>
<circle cx="1444.5" cy="606.5" r="4.3"/>
<circle cx="1451.5" cy="605.8" r="4.3"/>
<circle cx="1471.0" cy="606.5" r="4.3"/>
<circle cx="1474.4" cy="578.4" r="4.3"/>
<circle cx="1499.4" cy="504.3" r="4.3"/>
<circle cx="1553.5" cy="508.8" r="4.3"/>
<circle cx="1484.3" cy="521.6" r="4.3"/>
<circle cx="1498.7" cy="528.6" r="4.3"/>
<circle cx="1511.7" cy="523.7" r="4.3"/>
<circle cx="1514.5" cy="525.1" r="4.3"/>
<circle cx="1519.1" cy="533.9" r="4.3"/>
<circle cx="1541.8" cy="525.4" r="4.3"/>
<circle cx="1480.6" cy="547.4" r="4.3"/>
<circle cx="1489.9" cy="545.0" r="4.3"/>
<circle cx="1496.9" cy="543.9" r="4.3"/>
<circle cx="1493.4" cy="550.8" r="4.3"/>
<circle cx="1501.7" cy="548.1" r="4.3"/>
<circle cx="1506.6" cy="547.4" r="4.3"/>
<circle cx="1508.0" cy="552.2" r="4.3"/>
<circle cx="1526.1" cy="546.0" r="4.3"/>
<circle cx="1522.6" cy="550.8" r="4.3"/>
<circle cx="1518.4" cy="556.4" r="4.3"/>
<circle cx="1515.6" cy="559.9" r="4.3"/>
<circle cx="1512.8" cy="563.4" r="4.3"/>
<circle cx="1510.1" cy="567.5" r="4.3"/>
<circle cx="1534.8" cy="560.6" r="4.3"/>
<circle cx="1472.5" cy="554.3" r="4.3"/>
<circle cx="1470.4" cy="567.5" r="4.3"/>
<circle cx="1480.2" cy="560.9" r="4.3"/>
<circle cx="1487.8" cy="566.8" r="4.3"/>
<circle cx="1493.4" cy="563.4" r="4.3"/>
<circle cx="1498.2" cy="562.0" r="4.3"/>
<circle cx="1496.9" cy="568.2" r="4.3"/>
<circle cx="1504.5" cy="571.0" r="4.3"/>
<circle cx="1474.6" cy="578.4" r="4.3"/>
<circle cx="1485.0" cy="578.4" r="4.3"/>
<circle cx="1492.0" cy="575.9" r="4.3"/>
<circle cx="1480.9" cy="584.2" r="4.3"/>
<circle cx="1492.7" cy="587.7" r="4.3"/>
<circle cx="1500.3" cy="584.2" r="4.3"/>
<circle cx="1506.6" cy="583.5" r="4.3"/>
<circle cx="1512.8" cy="585.6" r="4.3"/>
<circle cx="1517.0" cy="589.8" r="4.3"/>
<circle cx="1518.4" cy="577.3" r="4.3"/>
<circle cx="1524.0" cy="578.7" r="4.3"/>
<circle cx="1528.1" cy="580.0" r="4.3"/>
<circle cx="1545.5" cy="578.7" r="4.3"/>
<circle cx="1471.1" cy="588.4" r="4.3"/>
<circle cx="1478.1" cy="591.2" r="4.3"/>
<circle cx="1485.0" cy="593.3" r="4.3"/>
<circle cx="1496.2" cy="596.7" r="4.3"/>
<circle cx="1504.5" cy="594.0" r="4.3"/>
<circle cx="1505.9" cy="599.5" r="4.3"/>
<circle cx="1514.2" cy="595.3" r="4.3"/>
<circle cx="1521.2" cy="600.9" r="4.3"/>
<circle cx="1524.0" cy="603.7" r="4.3"/>
<circle cx="1508.7" cy="603.7" r="4.3"/>
<circle cx="1490.6" cy="603.7" r="4.3"/>
<circle cx="1498.9" cy="606.5" r="4.3"/>
<circle cx="1471.1" cy="606.5" r="4.3"/>
<circle cx="1476.7" cy="607.9" r="4.3"/>
<circle cx="1480.9" cy="610.6" r="4.3"/>
<circle cx="1540.4" cy="596.7" r="4.3"/>
<circle cx="1421.9" cy="614.8" r="4.3"/>
<circle cx="1421.1" cy="620.1" r="4.3"/>
<circle cx="1433.2" cy="615.6" r="4.3"/>
<circle cx="1443.0" cy="620.8" r="4.3"/>
<circle cx="1443.8" cy="623.9" r="4.3"/>
<circle cx="1453.6" cy="617.4" r="4.3"/>
<circle cx="1453.6" cy="627.6" r="4.3"/>
<circle cx="1459.6" cy="627.6" r="4.3"/>
<circle cx="1464.2" cy="632.2" r="4.3"/>
<circle cx="1470.2" cy="626.1" r="4.3"/>
<circle cx="1471.7" cy="623.1" r="4.3"/>
<circle cx="1474.8" cy="630.7" r="4.3"/>
<circle cx="1480.8" cy="626.1" r="4.3"/>
<circle cx="1402.2" cy="628.9" r="4.3"/>
<circle cx="1409.5" cy="630.4" r="4.3"/>
<circle cx="1388.9" cy="636.1" r="4.3"/>
<circle cx="1422.6" cy="629.2" r="4.3"/>
<circle cx="1418.1" cy="635.2" r="4.3"/>
<circle cx="1432.4" cy="628.9" r="4.3"/>
<circle cx="1431.7" cy="639.0" r="4.3"/>
<circle cx="1446.0" cy="636.0" r="4.3"/>
<circle cx="1415.5" cy="643.8" r="4.3"/>
<circle cx="1400.7" cy="646.8" r="4.3"/>
<circle cx="1425.6" cy="648.1" r="4.3"/>
<circle cx="1438.5" cy="649.6" r="4.3"/>
<circle cx="1453.6" cy="643.1" r="4.3"/>
<circle cx="1441.5" cy="656.4" r="4.3"/>
<circle cx="1447.6" cy="653.3" r="4.3"/>
<circle cx="1453.6" cy="656.4" r="4.3"/>
<circle cx="1457.4" cy="651.8" r="4.3"/>
<circle cx="1462.7" cy="647.3" r="4.3"/>
<circle cx="1464.2" cy="653.3" r="4.3"/>
<circle cx="1468.7" cy="644.3" r="4.3"/>
<circle cx="1474.8" cy="641.3" r="4.3"/>
<circle cx="1480.8" cy="639.7" r="4.3"/>
<circle cx="1444.5" cy="662.4" r="4.3"/>
<circle cx="1440.0" cy="664.7" r="4.3"/>
<circle cx="1448.3" cy="666.2" r="4.3"/>
<circle cx="1480.8" cy="654.1" r="4.3"/>
<circle cx="1418.1" cy="657.9" r="4.3"/>
<circle cx="1418.8" cy="660.1" r="4.3"/>
<circle cx="1429.7" cy="660.9" r="4.3"/>
<circle cx="1398.0" cy="663.9" r="4.3"/>
<circle cx="1387.1" cy="681.8" r="4.3"/>
<circle cx="1441.2" cy="673.7" r="4.3"/>
<circle cx="1455.1" cy="674.5" r="4.3"/>
<circle cx="1456.6" cy="680.6" r="4.3"/>
<circle cx="1443.8" cy="683.6" r="4.3"/>
<circle cx="1449.8" cy="685.1" r="4.3"/>
<circle cx="1466.9" cy="673.4" r="4.3"/>
<circle cx="1466.4" cy="688.1" r="4.3"/>
<circle cx="1468.7" cy="685.8" r="4.3"/>
<circle cx="1483.1" cy="686.6" r="4.3"/>
<circle cx="1486.9" cy="696.4" r="4.3"/>
<circle cx="1450.6" cy="715.3" r="4.3"/>
<circle cx="1455.1" cy="711.5" r="4.3"/>
<circle cx="1464.9" cy="715.0" r="4.3"/>
<circle cx="1435.5" cy="725.9" r="4.3"/>
<circle cx="1491.7" cy="617.1" r="4.3"/>
<circle cx="1508.4" cy="617.8" r="4.3"/>
<circle cx="1513.7" cy="616.3" r="4.3"/>
<circle cx="1507.2" cy="621.6" r="4.3"/>
<circle cx="1542.4" cy="623.1" r="4.3"/>
<circle cx="1496.3" cy="627.6" r="4.3"/>
<circle cx="1502.3" cy="630.7" r="4.3"/>
<circle cx="1513.7" cy="635.2" r="4.3"/>
<circle cx="1521.2" cy="632.9" r="4.3"/>
<circle cx="1503.1" cy="639.7" r="4.3"/>
<circle cx="1500.1" cy="643.5" r="4.3"/>
<circle cx="1506.1" cy="649.6" r="4.3"/>
<circle cx="1508.4" cy="654.1" r="4.3"/>
<circle cx="1505.0" cy="659.4" r="4.3"/>
<circle cx="1481.2" cy="653.3" r="4.3"/>
<circle cx="1527.7" cy="671.2" r="4.3"/>
<circle cx="1483.4" cy="686.6" r="4.3"/>
<circle cx="1486.5" cy="696.4" r="4.3"/>
<circle cx="1511.4" cy="723.6" r="4.3"/>
<circle cx="1479.6" cy="612.5" r="4.3"/>
<circle cx="1481.2" cy="620.1" r="4.3"/>
<circle cx="1475.1" cy="627.6" r="4.3"/>
<circle cx="1482.7" cy="629.2" r="4.3"/>
<circle cx="1487.2" cy="627.6" r="4.3"/>
<circle cx="1472.1" cy="623.1" r="4.3"/>
<circle cx="1470.6" cy="639.7" r="4.3"/>
<circle cx="1476.6" cy="639.7" r="4.3"/>
<circle cx="1482.7" cy="641.3" r="4.3"/>
<circle cx="1484.2" cy="638.2" r="4.3"/>
<circle cx="1473.6" cy="645.8" r="4.3"/>
</svg>
</body></html>
